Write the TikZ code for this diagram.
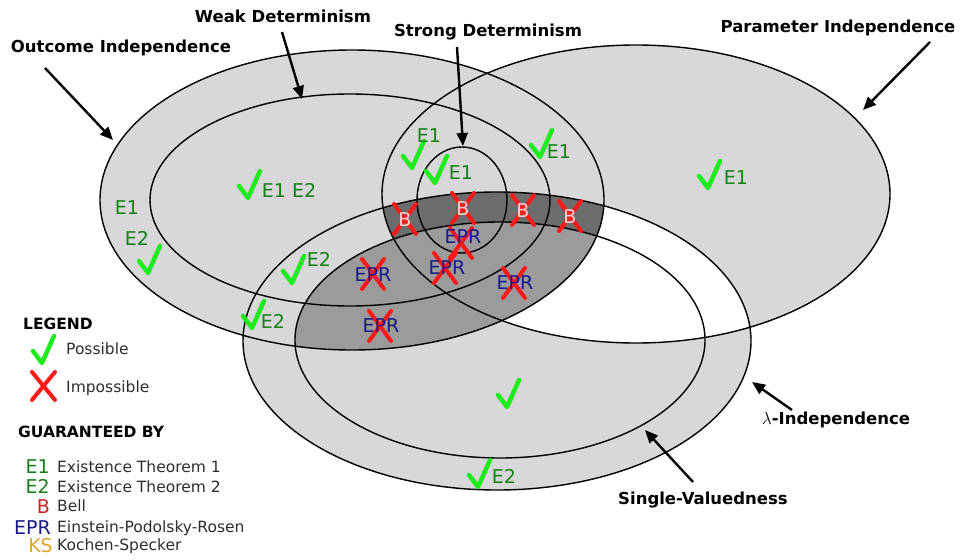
\documentclass[tikz,border=0pt]{standalone}
\usepackage{fontspec}
\setmainfont{DejaVu Sans}
\usetikzlibrary{arrows.meta}
\definecolor{lg}{RGB}{216,215,217}
\definecolor{mg}{RGB}{155,155,155}
\definecolor{dg}{RGB}{108,108,108}
\definecolor{ckgreen}{RGB}{30,235,30}
\definecolor{lblgreen}{RGB}{22,128,22}
\definecolor{eprblue}{RGB}{25,25,135}
\definecolor{xred}{RGB}{255,25,25}
\definecolor{bred}{RGB}{205,35,35}
\definecolor{bpink}{RGB}{250,210,210}
\definecolor{ksorange}{RGB}{222,165,45}
\definecolor{legtxt}{RGB}{45,45,45}
\newcommand\mychk[2]{\draw[chk] (#1,#2) ++(-9,-12) -- ++(9,12) -- ++(12,-27);}
\newcommand\myx[2]{\draw[xm] (#1,#2) ++(-11,-15) -- ++(22,30); \draw[xm] (#1,#2) ++(11,-15) -- ++(-22,30);}
\newcommand\glab[4]{% name, x, y(center), text
  \node[elab, text=lblgreen] (#1) at (#2,#3+7) {#4};}
\newcommand\eprlab[5]{% name, x, y (text), x, y (cross)
  \myx{#4}{#5}
  \node[elab, text=eprblue] (#1) at (#2,#3+7) {EPR};}
\newcommand\blab[3]{% name, x, y
  \myx{#2}{#3}
  \node[elab, text=bpink] (#1) at (#2,#3+7) {B};}
\begin{document}
\begin{tikzpicture}[x=1pt,y=-1pt,
  setline/.style={line width=1.4pt, draw=black},
  ptr/.style={line width=2.4pt, -{Triangle[length=13pt,width=11pt]}},
  biglabel/.style={font=\fontsize{16.5}{18}\selectfont\bfseries, inner sep=0, anchor=base},
  leghead/.style={font=\fontsize{15.5}{17}\selectfont\bfseries, inner sep=0, anchor=base west},
  legtext/.style={font=\fontsize{15.5}{17}\selectfont, text=legtxt, inner sep=0, anchor=base west},
  elab/.style={font=\fontsize{19}{20}\selectfont, inner sep=0, anchor=base},
  chk/.style={draw=ckgreen, line width=4.5pt, line cap=round, line join=round},
  xm/.style={draw=xred, line width=4pt, line cap=round}]
\useasboundingbox (0,0) rectangle (960,559);
% set shapes
\def\OI{(352,200) ellipse [x radius=252, y radius=150]}
\def\WD{(350,200) ellipse [x radius=200, y radius=106]}
\def\SD{(462,200) ellipse [x radius=45, y radius=53]}
\def\PI{(636,194) ellipse [x radius=254, y radius=149]}
\def\LI{(497,341) ellipse [x radius=254, y radius=149]}
\def\SV{(500,340) ellipse [x radius=205, y radius=118]}
% fills
\fill[lg] \OI; \fill[lg] \PI; \fill[lg] \LI;
\begin{scope} \clip \PI; \fill[white] \LI; \end{scope}
\begin{scope} \clip \OI; \clip \PI; \fill[dg] \LI; \end{scope}
\begin{scope} \clip \OI; \fill[mg] \SV; \end{scope}
% outlines
\draw[setline] \OI; \draw[setline] \WD; \draw[setline] \SD;
\draw[setline] \PI; \draw[setline] \LI; \draw[setline] \SV;
% possible marks
\mychk{148}{273} \glab{oa}{127}{207}{E1} \glab{ob}{137}{238}{E2}
\mychk{248}{198} \glab{wa}{289}{190}{E1 E2}
\mychk{292}{283} \glab{la}{319}{259}{E2}
\mychk{252}{328} \glab{lb}{273}{321}{E2}
\mychk{507}{407}
\mychk{478}{487} \glab{lc}{504}{476}{E2}
\mychk{708}{188} \glab{pa}{736}{177}{E1}
\mychk{540}{157} \glab{pb}{559}{151}{E1}
\mychk{412}{168} \glab{pc}{429}{135}{E1}
\mychk{435}{183} \glab{sa}{461}{172}{E1}
% impossible marks
\blab{ba}{405}{219} \blab{bb}{463}{208} \blab{bc}{523}{210} \blab{bd}{570}{216}
\eprlab{ea}{463}{236}{461}{243}
\eprlab{eb}{447}{267}{445}{268}
\eprlab{ec}{515}{282}{514}{283}
\eprlab{ed}{373}{274}{373}{274}
\eprlab{ee}{381}{325}{380}{326}
% labels and pointers
\node[biglabel] (tOI) at (121,53) {Outcome Independence};
\node[biglabel] (tWD) at (283,23) {Weak Determinism};
\node[biglabel] (tSD) at (488,37) {Strong Determinism};
\node[biglabel] (tPI) at (838,33) {Parameter Independence};
\node[biglabel] (tLI) at (836,424) {$\lambda$-Independence};
\node[biglabel] (tSV) at (703,504) {Single-Valuedness};
\coordinate (sOI) at (45,68);  \coordinate (eOI) at (113,140);
\coordinate (sWD) at (282,32); \coordinate (eWD) at (302,99);
\coordinate (sSD) at (457,47); \coordinate (eSD) at (463,146);
\coordinate (sPI) at (930,42); \coordinate (ePI) at (863,110);
\coordinate (sLI) at (792,410); \coordinate (eLI) at (752,382);
\coordinate (sSV) at (693,482); \coordinate (eSV) at (645,430);
\draw[ptr] (sOI) -- (eOI);
\draw[ptr] (sWD) -- (eWD);
\draw[ptr] (sSD) -- (eSD);
\draw[ptr] (sPI) -- (ePI);
\draw[ptr] (sLI) -- (eLI);
\draw[ptr] (sSV) -- (eSV);
% legend
\node[leghead] (lgd) at (23,329) {LEGEND};
\mychk{42}{363}
\node[legtext] (pos) at (66,354.5) {Possible};
\coordinate (xa) at (32,372); \coordinate (xb) at (55,400);
\coordinate (xc) at (55,372); \coordinate (xd) at (32,400);
\draw[xm] (xa) -- (xb); \draw[xm] (xc) -- (xd);
\node[legtext] (imp) at (66,392.5) {Impossible};
\node[leghead] (gby) at (18,437) {GUARANTEED BY};
\node[elab, anchor=base east, text=lblgreen] (ke1) at (50,473) {E1};
\node[elab, anchor=base east, text=lblgreen] (ke2) at (50,493) {E2};
\node[elab, anchor=base east, text=bred] (kb) at (50,513) {B};
\node[elab, anchor=base east, text=eprblue] (kepr) at (51,534) {EPR};
\node[elab, anchor=base east, text=ksorange] (kks) at (53,552) {KS};
\node[legtext] (de1) at (57,472) {Existence Theorem 1};
\node[legtext] (de2) at (57,492) {Existence Theorem 2};
\node[legtext] (db) at (57,511.5) {Bell};
\node[legtext] (depr) at (57,532.5) {Einstein-Podolsky-Rosen};
\node[legtext] (dks) at (57,550.5) {Kochen-Specker};
\end{tikzpicture}
\end{document}
